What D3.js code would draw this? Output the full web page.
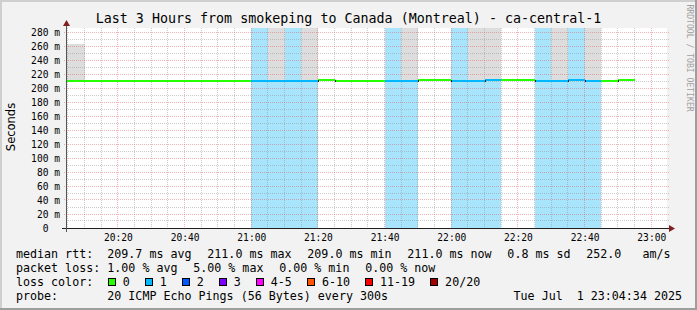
<!DOCTYPE html>
<html><head><meta charset="utf-8">
<script src="https://cdn.jsdelivr.net/npm/d3@7/dist/d3.min.js"></script>
<style>
body{margin:0;background:#f2f2f2}
svg{display:block}
text{white-space:pre}
</style>
</head><body>
<script>
// ---------------- data ----------------
const title = "Last 3 Hours from smokeping to Canada (Montreal) - ca-central-1";
const yAxisTitle = "Seconds";
const watermark = "RRDTOOL / TOBI OETIKER";
const rangeStart = "20:04:34";
const rangeEnd = "23:04:34";
// 5-minute samples (time = end of the sample interval)
const slotEnds = ["20:05","20:10","20:15","20:20","20:25","20:30","20:35","20:40","20:45","20:50","20:55","21:00",
                  "21:05","21:10","21:15","21:20","21:25","21:30","21:35","21:40","21:45","21:50","21:55","22:00",
                  "22:05","22:10","22:15","22:20","22:25","22:30","22:35","22:40","22:45","22:50","22:55"];
const medianMs = [210,210,210,210,210,210,210,210,210,210,210,210,
                  210,210,210,210,211,210,210,210,210,210,211,211,
                  210,209.4,211,211,211,210,210,211,210,210,211];
const lossPings = [0,0,0,0,0,0,0,0,0,0,0,0,
                   1,1,1,1,0,0,0,0,1,1,0,0,
                   1,1,1,0,0,1,1,1,1,0,0];
const smokeTopMs = [263,263,210,210,210,210,210,210,210,210,210,210,
                    210,300,210,300,211,210,210,210,210,300,211,211,
                    210,300,300,211,211,210,300,211,300,210,211];
const yTicks = [0,20,40,60,80,100,120,140,160,180,200,220,240,260,280];
const xTickLabels = ["20:20","20:40","21:00","21:20","21:40","22:00","22:20","22:40","23:00"];
const rttLabel = "median rtt:";
const rttStats = ["209.7 ms avg","211.0 ms max","209.0 ms min","211.0 ms now","0.8 ms sd","252.0   am/s"];
const lossLabel = "packet loss:";
const lossStats = ["1.00 % avg","5.00 % max","0.00 % min","0.00 % now"];
const colorLabel = "loss color:";
const lossClasses = ["0","1","2","3","4-5","6-10","11-19","20/20"];
const lossColors = ["#26ff00","#00b8ff","#0059ff","#7e00ff","#ff00ff","#ff5500","#ff0000","#a10000"];
const lossBgColors = [null,"#a8e4fb"];
const probeLabel = "probe:";
const probeText = "20 ICMP Echo Pings (56 Bytes) every 300s";
const stampText = "Tue Jul  1 23:04:34 2025";

// ---------------- chart ----------------
const W = 697, H = 310;
const mono = "'DejaVu Sans Mono', monospace";
const t = s => { const p = s.split(":").map(Number); return new Date(2025, 6, 1, p[0], p[1], p[2] || 0); };
const svg = d3.select("body").append("svg").attr("width", W).attr("height", H);

// background and shades
svg.append("rect").attr("width", W).attr("height", H).attr("fill", "#f2f2f2");
svg.append("rect").attr("x",0).attr("y",0).attr("width",W).attr("height",2).attr("fill","#cfcfcf");
svg.append("rect").attr("x",0).attr("y",0).attr("width",2).attr("height",H).attr("fill","#cfcfcf");
svg.append("rect").attr("x",0).attr("y",H-2).attr("width",W).attr("height",2).attr("fill","#9e9e9e");
svg.append("rect").attr("x",W-2).attr("y",0).attr("width",2).attr("height",H).attr("fill","#9e9e9e");

const x = d3.scaleTime().domain([t(rangeStart), t(rangeEnd)]).range([66.5, 666.5]);
const y = d3.scaleLinear().domain([0, 200/0.7]).range([228, 28]);
const px = v => Math.floor(v) + 0.5;

svg.append("rect").attr("x", 67).attr("y", 28).attr("width", 600).attr("height", 200).attr("fill", "#fff");
svg.append("clipPath").attr("id","plot").append("rect").attr("x",67).attr("y",28).attr("width",600).attr("height",200);

const slots = slotEnds.map((s, i) => ({end: t(s), start: new Date(t(s).getTime() - 300000),
  med: medianMs[i], loss: lossPings[i], top: smokeTopMs[i]}));

const data = svg.append("g").attr("clip-path","url(#plot)");
// loss background
data.selectAll("rect.lb").data(slots.filter(d => d.loss > 0)).join("rect")
  .attr("x", d => Math.round(x(d.start))).attr("width", d => Math.round(x(d.end)) - Math.round(x(d.start)))
  .attr("y", 28).attr("height", 200).attr("fill", d => lossBgColors[d.loss]).attr("shape-rendering","crispEdges");
// smoke
data.selectAll("rect.sm").data(slots.filter(d => d.top > d.med + 1)).join("rect")
  .attr("x", d => Math.round(x(d.start))).attr("width", d => Math.round(x(d.end)) - Math.round(x(d.start)))
  .attr("y", d => Math.round(y(d.top))).attr("height", d => Math.round(y(d.med)) - Math.round(y(d.top)))
  .attr("fill", "#dddddd").attr("shape-rendering","crispEdges");

// grid
const grid = svg.append("g").attr("shape-rendering","crispEdges").attr("stroke-dasharray","1,1").attr("stroke-width",1);
const minorT = d3.timeMinute.every(5).range(t(rangeStart), t(rangeEnd)).filter(d => d.getMinutes() % 20 !== 0);
const majorT = d3.timeMinute.every(20).range(t(rangeStart), t(rangeEnd));
const minorCol = "rgba(143,143,143,0.45)", majorCol = "rgba(222,79,79,0.42)";
grid.selectAll("line.mx").data(minorT).join("line")
  .attr("x1", d => px(x(d))).attr("x2", d => px(x(d))).attr("y1", 28).attr("y2", 228)
  .attr("stroke", minorCol);
const minorY = d3.range(10, 285, 20);
grid.selectAll("line.my").data(minorY).join("line")
  .attr("x1", 66).attr("x2", 669).attr("y1", d => px(y(d))).attr("y2", d => px(y(d)))
  .attr("stroke", minorCol);
grid.selectAll("line.Mx").data(majorT).join("line")
  .attr("x1", d => px(x(d))).attr("x2", d => px(x(d))).attr("y1", 28).attr("y2", 228)
  .attr("stroke", majorCol);
grid.selectAll("line.My").data(yTicks.filter(v => v > 0)).join("line")
  .attr("x1", 64).attr("x2", 669).attr("y1", d => px(y(d))).attr("y2", d => px(y(d)))
  .attr("stroke", majorCol);

// median line coloured by loss
const ln = svg.append("g").attr("clip-path","url(#plot)");
ln.selectAll("line.med").data(slots).join("line")
  .attr("x1", d => Math.round(x(d.start))).attr("x2", d => Math.round(x(d.end)))
  .attr("y1", d => Math.round(y(d.med))).attr("y2", d => Math.round(y(d.med)))
  .attr("stroke", d => lossColors[d.loss]).attr("stroke-width", 2);
const steps = slots.slice(1).map((d, i) => ({xx: x(d.start), a: Math.round(y(slots[i].med)), b: Math.round(y(d.med))}))
  .filter(d => d.a !== d.b);
ln.selectAll("line.st").data(steps).join("line")
  .attr("x1", d => Math.round(d.xx) + 0.5).attr("x2", d => Math.round(d.xx) + 0.5)
  .attr("y1", d => Math.min(d.a, d.b) - 0.5).attr("y2", d => Math.max(d.a, d.b) + 0.5)
  .attr("stroke", "#202020").attr("stroke-width", 1).attr("shape-rendering","crispEdges");

// axes
const ax = svg.append("g");
ax.append("line").attr("x1", 62).attr("x2", 671).attr("y1", 228.5).attr("y2", 228.5)
  .attr("stroke", "#1f1f1f").attr("shape-rendering","crispEdges");
ax.append("line").attr("x1", 66.5).attr("x2", 66.5).attr("y1", 232).attr("y2", 24)
  .attr("stroke", "#555").attr("shape-rendering","crispEdges");
ax.append("path").attr("d", "M669,225 L675,228.5 L669,232 Z").attr("fill", "#801f1f");
ax.append("path").attr("d", "M63,26 L66.5,20 L70,26 Z").attr("fill", "#801f1f");

// tick labels
const tickFont = 9.6;
svg.append("g").selectAll("text").data(yTicks).join("text")
  .attr("x", 60).attr("y", d => y(d) + 3.5)
  .attr("text-anchor", "end").attr("font-family", mono).attr("font-size", tickFont).attr("fill", "#000")
  .text(d => d === 0 ? "0  " : d + " m");
svg.append("g").selectAll("text").data(xTickLabels).join("text")
  .attr("x", d => x(t(d)) + 0.5).attr("y", 240.7)
  .attr("text-anchor", "middle").attr("font-family", mono).attr("font-size", tickFont).attr("fill", "#000")
  .text(d => d);

// titles
svg.append("text").attr("x", 348.5).attr("y", 23.3).attr("text-anchor", "middle")
  .attr("font-family", mono).attr("font-size", 13.33).attr("fill", "#000").text(title);
svg.append("text").attr("transform", "translate(15,127) rotate(-90)").attr("text-anchor", "middle")
  .attr("font-family", "'DejaVu Sans', sans-serif").attr("font-size", 11.5).attr("fill", "#000").text(yAxisTitle);
svg.append("text").attr("transform", "translate(686.5,4.5) rotate(90)")
  .attr("font-family", mono).attr("font-size", 8.1).attr("fill", "#a0a0a0").text(watermark);

// legend
const lf = 11.67, cw = lf * 0.6021, gap = 15.7, valX = 107.3, labX = 16;
const rows = [257.5, 271.5, 285.5, 299.5];
const lg = svg.append("g").attr("font-family", mono).attr("font-size", lf).attr("fill", "#000");
function statRow(label, items, yy) {
  lg.append("text").attr("x", labX).attr("y", yy).text(label);
  let xx = valX;
  items.forEach(s => { lg.append("text").attr("x", xx).attr("y", yy).text(s); xx += s.length * cw + gap; });
}
statRow(rttLabel, rttStats, rows[0]);
statRow(lossLabel, lossStats, rows[1]);
lg.append("text").attr("x", labX).attr("y", rows[2]).text(colorLabel);
let cx = 108;
lossClasses.forEach((s, i) => {
  lg.append("rect").attr("x", cx + 0.5).attr("y", rows[2] - 7).attr("width", 7).attr("height", 7)
    .attr("fill", lossColors[i]).attr("stroke", "#000").attr("stroke-width", 1).attr("shape-rendering","crispEdges");
  lg.append("text").attr("x", cx + 14.7).attr("y", rows[2]).text(s);
  cx += 30 + s.length * cw;
});
lg.append("text").attr("x", labX).attr("y", rows[3]).text(probeLabel);
lg.append("text").attr("x", valX).attr("y", rows[3]).text(probeText);
lg.append("text").attr("x", 682).attr("y", rows[3]).attr("text-anchor", "end").text(stampText);
</script>
</body></html>
